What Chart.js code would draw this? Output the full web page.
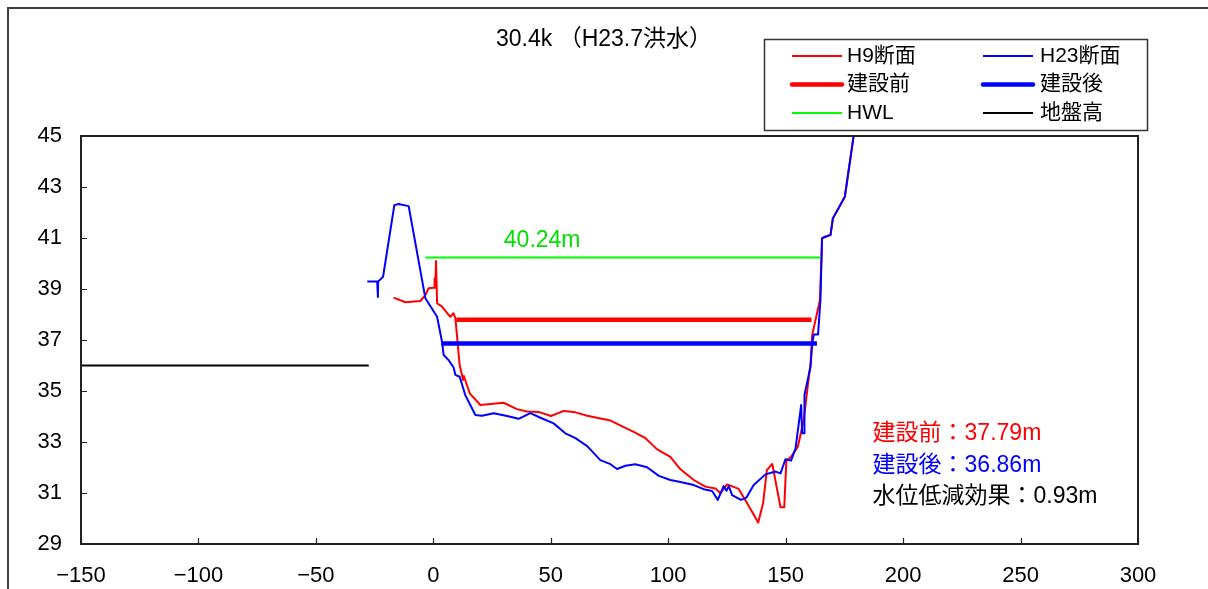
<!DOCTYPE html>
<html>
<head>
<meta charset="utf-8">
<script src="https://cdn.jsdelivr.net/npm/chart.js@4/dist/chart.umd.min.js"></script>
<style>
html,body{margin:0;padding:0;background:#fff;}
#wrap{width:1208px;height:589px;position:relative;}
</style>
</head>
<body>
<div id="wrap"><canvas id="c" width="1208" height="589"></canvas></div>
<script>
// ---- data ----
const titleText = '30.4k （H23.7洪水）';
const xTickValues = [-150, -100, -50, 0, 50, 100, 150, 200, 250, 300];
const yTickValues = [29, 31, 33, 35, 37, 39, 41, 43, 45];

const h9Distance = [-16.9,-11.9,-5.5,-3.4,-2.0,0.1,0.5,0.55,0.8,1.15,1.6,3.7,7.2,8.6,9.4,11.2,12.2,12.6,13.0,15.5,20.0,29.9,35.6,39.9,44.8,50.1,55.5,59.8,65.5,75.4,85.3,90.3,95.3,100.9,105.2,110.9,115.8,120.1,122.2,125.1,130.0,133.6,138.3,140.4,142.0,144.3,147.8,149.4,150.3,152.3,155.2,157.7,159.2,160.6,161.3,164.6,165.5,166.3,169.1,170.1,175.2,179.0,180.5];
const h9Elevation = [38.66,38.48,38.53,38.76,39.03,39.05,39.05,39.42,39.05,40.10,38.44,38.31,37.91,38.05,37.85,36.02,35.63,35.43,35.59,34.91,34.45,34.54,34.29,34.20,34.18,34.02,34.22,34.18,34.03,33.84,33.40,33.15,32.71,32.42,31.93,31.51,31.25,31.18,30.99,31.34,31.16,30.60,29.84,30.60,31.90,32.14,30.44,30.44,32.27,32.42,32.82,33.86,35.04,36.09,37.20,38.57,40.99,41.04,41.12,41.77,42.62,45.04,46.0];

const h23Distance = [-28.1,-23.9,-23.6,-23.5,-21.4,-16.6,-14.8,-10.5,-3.4,1.6,3.7,4.4,6.4,8.6,9.4,11.2,13.6,17.9,20.7,25.7,31.4,36.3,41.3,45.6,51.2,56.2,60.5,65.5,71.1,75.4,78.2,81.8,86.0,91.0,96.0,100.9,105.2,110.9,115.1,118.7,121.1,123.6,124.8,125.8,127.2,131.0,133.3,136.4,141.4,145.7,147.8,149.9,152.3,154.2,156.6,157.0,158.0,158.0,160.6,161.3,162.0,163.8,164.8,165.5,169.1,170.1,175.2,179.0,180.5];
const h23Elevation = [39.29,39.29,38.69,39.29,39.48,42.29,42.33,42.25,38.64,37.91,36.93,36.41,36.22,35.93,35.63,35.56,34.84,34.06,34.03,34.13,34.02,33.91,34.13,33.95,33.73,33.34,33.15,32.84,32.29,32.13,31.94,32.07,32.13,32.01,31.67,31.51,31.43,31.31,31.15,31.08,30.73,31.27,31.09,31.27,30.92,30.73,30.82,31.31,31.73,31.84,31.77,32.32,32.27,32.75,34.45,33.34,33.34,34.84,35.95,36.87,37.22,37.22,38.57,40.99,41.12,41.77,42.62,45.04,46.0];

const beforeLevel = 37.79;              // 建設前 water level
const beforeRange = [9.8, 161.0];
const afterLevel = 36.86;               // 建設後 water level
const afterRange = [3.4, 163.3];
const hwlLevel = 40.24;                 // HWL
const hwlRange = [-3.4, 164.8];
const groundLevel = 36.0;               // 地盤高
const groundRange = [-150, -27.5];

const seriesLabels = ['H9断面', 'H23断面', '建設前', '建設後', 'HWL', '地盤高'];

// ---- build ----
const zip = (xs, ys) => xs.map((x, i) => ({x, y: ys[i]}));
const flat = (range, y) => range.map(x => ({x, y}));

const FONT = '"Liberation Sans", Arial, "Noto Sans CJK JP", sans-serif';
const RED = '#ff0000', BLUE = '#0000ff', GREEN = '#00ff00', BLACK = '#000000';

const datasets = [
  {label: seriesLabels[0], data: zip(h9Distance, h9Elevation), borderColor: RED, borderWidth: 2, order: 4, clip: 0},
  {label: seriesLabels[1], data: zip(h23Distance, h23Elevation), borderColor: BLUE, borderWidth: 2, order: 3, clip: 0},
  {label: seriesLabels[2], data: flat(beforeRange, beforeLevel), borderColor: RED, borderWidth: 4.5, order: 1},
  {label: seriesLabels[3], data: flat(afterRange, afterLevel), borderColor: BLUE, borderWidth: 4.5, order: 0},
  {label: seriesLabels[4], data: flat(hwlRange, hwlLevel), borderColor: GREEN, borderWidth: 2, order: 2},
  {label: seriesLabels[5], data: flat(groundRange, groundLevel), borderColor: BLACK, borderWidth: 2, order: 5},
].map(d => Object.assign({showLine: true, pointRadius: 0, pointHoverRadius: 0, fill: false, tension: 0, borderCapStyle: 'butt', borderJoinStyle: 'round'}, d));

const decorPlugin = {
  id: 'decor',
  afterDraw(chart) {
    const ctx = chart.ctx, a = chart.chartArea;
    const xs = chart.scales.x, ys = chart.scales.y;
    ctx.save();
    // outer frame
    ctx.strokeStyle = '#404040'; ctx.lineWidth = 2;
    ctx.beginPath(); ctx.moveTo(8, 589); ctx.lineTo(8, 8); ctx.lineTo(1208, 8); ctx.stroke();
    // plot frame
    ctx.strokeStyle = '#222'; ctx.lineWidth = 2;
    ctx.strokeRect(a.left, a.top, a.right - a.left, a.bottom - a.top);
    // inside ticks
    ctx.lineWidth = 1.2; ctx.strokeStyle = '#222';
    ctx.beginPath();
    yTickValues.forEach(v => { const p = Math.round(ys.getPixelForValue(v)) + 0.5; ctx.moveTo(a.left, p); ctx.lineTo(a.left + 6, p); });
    xTickValues.forEach(v => { const p = Math.round(xs.getPixelForValue(v)) + 0.5; ctx.moveTo(p, a.bottom); ctx.lineTo(p, a.bottom - 6); });
    ctx.stroke();
    // title
    ctx.fillStyle = '#000'; ctx.font = '23px ' + FONT; ctx.textAlign = 'center'; ctx.textBaseline = 'middle';
    ctx.fillText(titleText, 604, 40);
    // HWL label
    ctx.font = '23px ' + FONT;
    ctx.fillStyle = '#00e000'; ctx.textAlign = 'left';
    ctx.fillText(hwlLevel.toFixed(2) + 'm', xs.getPixelForValue(30), ys.getPixelForValue(hwlLevel) - 17);
    // annotations
    const ax = xs.getPixelForValue(187);
    ctx.fillStyle = RED; ctx.fillText('建設前：' + beforeLevel.toFixed(2) + 'm', ax, 434);
    ctx.fillStyle = BLUE; ctx.fillText('建設後：' + afterLevel.toFixed(2) + 'm', ax, 465.5);
    ctx.fillStyle = BLACK; ctx.fillText('水位低減効果：' + (beforeLevel - afterLevel).toFixed(2) + 'm', ax, 497);
    // legend
    ctx.font = '21px ' + FONT;
    ctx.strokeStyle = '#333'; ctx.lineWidth = 1.5;
    ctx.strokeRect(764.5, 39.5, 383, 91);
    const cols = [{l1: 792, l2: 842, t: 847}, {l1: 983, l2: 1033, t: 1040}];
    const rows = [56, 84.5, 113];
    chart.data.datasets.forEach((d, i) => {
      const c = cols[i % 2], r = rows[Math.floor(i / 2)];
      ctx.strokeStyle = d.borderColor; ctx.lineWidth = d.borderWidth; ctx.lineCap = d.borderWidth > 3 ? 'round' : 'butt';
      ctx.beginPath(); ctx.moveTo(c.l1, r); ctx.lineTo(c.l2, r); ctx.stroke();
      ctx.fillStyle = '#000'; ctx.textAlign = 'left';
      ctx.fillText(d.label, c.t, r);
    });
    ctx.restore();
  }
};

new Chart(document.getElementById('c'), {
  type: 'scatter',
  data: {datasets},
  options: {
    responsive: false,
    animation: false,
    events: [],
    layout: {padding: {top: 136, right: 70, left: 0, bottom: 0}},
    plugins: {legend: {display: false}, title: {display: false}, tooltip: {enabled: false}},
    scales: {
      x: {
        type: 'linear', min: -150, max: 300,
        afterBuildTicks: s => { s.ticks = xTickValues.map(v => ({value: v})); },
        afterFit: s => { s.height = 45; },
        grid: {display: false, drawTicks: false},
        border: {display: false},
        ticks: {color: '#000', font: {size: 22, family: FONT}, padding: 19, maxRotation: 0, autoSkip: false,
                callback: v => (v < 0 ? '−' + Math.abs(v) : String(v))}
      },
      y: {
        type: 'linear', min: 29, max: 45,
        afterBuildTicks: s => { s.ticks = yTickValues.map(v => ({value: v})); },
        afterFit: s => { s.width = 81; },
        grid: {display: false, drawTicks: false},
        border: {display: false},
        ticks: {color: '#000', font: {size: 22, family: FONT}, padding: 19, autoSkip: false}
      }
    }
  },
  plugins: [decorPlugin]
});
</script>
</body>
</html>
